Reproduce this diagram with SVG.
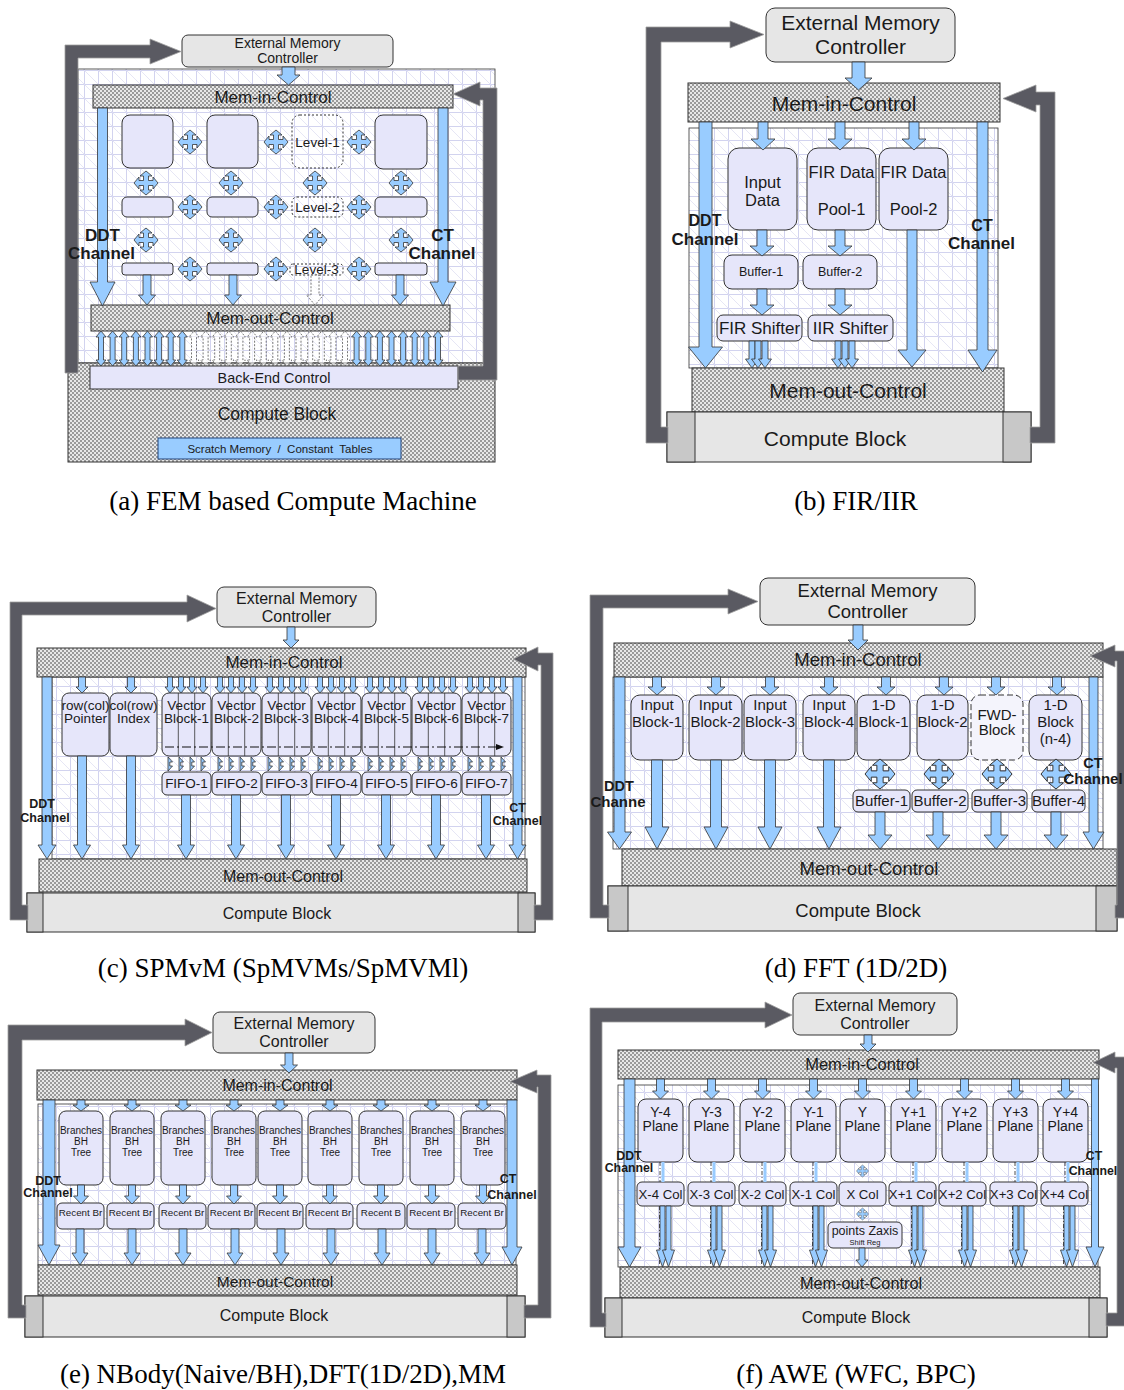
<svg xmlns="http://www.w3.org/2000/svg" width="1124" height="1390" viewBox="0 0 1124 1390">
<defs>
<pattern id="grid" width="14" height="14" patternUnits="userSpaceOnUse"><rect width="14" height="14" fill="#ffffff"/><path d="M0 0.5H14M0.5 0V14" stroke="#d2d3ef" stroke-width="1"/><path d="M0 0L14 14" stroke="#dfe0f3" stroke-width="0.8"/></pattern>
<pattern id="hatch" width="4" height="4" patternUnits="userSpaceOnUse"><rect width="4" height="4" fill="#e8e8e8"/><rect width="2" height="2" fill="#9a9a9a"/><rect x="2" y="2" width="2" height="2" fill="#9a9a9a"/></pattern>
<path id="x4" d="M0,-12 L6,-7 L2.5,-7 L2.5,-2.5 L7,-2.5 L7,-6 L12,0 L7,6 L7,2.5 L2.5,2.5 L2.5,7 L6,7 L0,12 L-6,7 L-2.5,7 L-2.5,2.5 L-7,2.5 L-7,6 L-12,0 L-7,-6 L-7,-2.5 L-2.5,-2.5 L-2.5,-7 L-6,-7 Z"/>
<path id="dbl" d="M0,0 L5,6 L2.5,6 L2.5,29 L5,29 L0,35 L-5,29 L-2.5,29 L-2.5,6 L-5,6 Z"/>
<path id="sdn" d="M-2.5,0 H2.5 V10 H5 L0,16 L-5,10 H-2.5 Z"/>
<path id="hdb" d="M0,0 L4.5,5 H1.8 V9 H4.5 L0,14 Z"/>
<path id="c64" d="M-4.5,0 H4.5 V50 H8.5 L0,64 L-8.5,50 H-4.5 Z"/>
<path id="ddn" d="M-4.5,0 H4.5 V10 H9 L0,18 L-9,10 H-4.5 Z"/>
<path id="d89" d="M-5.5,0 H5.5 V67 H12 L0,89 L-12,67 H-5.5 Z"/>
<path id="d37" d="M-5,0 H5 V23 H12 L0,37 L-12,23 H-5 Z"/>
<path id="e11" d="M-4,0 H4 V5 H8 L0,11 L-8,5 H-4 Z"/>
<path id="e19" d="M-3.5,0 H3.5 V11 H7.5 L0,19 L-7.5,11 H-3.5 Z"/>
<path id="e36" d="M-4,0 H4 V24 H8 L0,36 L-8,24 H-4 Z"/>
<path id="f20" d="M-4,0 H4 V12 H8 L0,20 L-8,12 H-4 Z"/>
<path id="f61" d="M-2.5,0 H2.5 V44 H6 L0,61 L-6,44 H-2.5 Z"/>
<marker id="ah" markerWidth="8" markerHeight="6" refX="1" refY="3" orient="auto" markerUnits="userSpaceOnUse"><path d="M0,0 L8,3 L0,6 Z" fill="#111"/></marker>
</defs>
<style>
text{font-family:"Liberation Sans",Arial,sans-serif;text-anchor:middle;fill:#1a1a1a}
.b{font-weight:bold}
.cp{font-family:"Liberation Serif","Times New Roman",serif;font-size:27px;fill:#000}
.grid{fill:url(#grid);stroke:#333;stroke-width:0.8}
.hatch{fill:url(#hatch);stroke:#333;stroke-width:1}
.blk{fill:#e6e6fa;stroke:#333;stroke-width:1}
.dash{fill:none;stroke:#333;stroke-width:1;stroke-dasharray:2 2}
.emc{fill:#e6e6e6;stroke:#333;stroke-width:1}
.cb{fill:#e6e6e6;stroke:#333;stroke-width:1}
.cap{fill:#c8c8c8;stroke:#333;stroke-width:1}
.arr{fill:#99ccff;stroke:#333;stroke-width:0.8}
.darr{fill:#ffffff;fill-opacity:0.6;stroke:#555;stroke-width:0.8;stroke-dasharray:2 1.5}
.loop{fill:#5a5a62;stroke:#a0a0a0;stroke-width:0.8}
.vl{stroke:#333;stroke-width:0.8}
.dl{stroke:#222;stroke-width:0.8;stroke-dasharray:4 2 1 2}
</style>
<rect width="1124" height="1390" fill="#ffffff"/>

<!-- ================= (a) ================= -->
<g id="panel-a">
<g id="a-frame"><rect x="78" y="69" width="417" height="294" class="grid"/></g>
<g id="a-compute"><rect x="68" y="363" width="427" height="99" class="hatch"/><text x="277" y="420" font-size="17.5">Compute Block</text></g>
<g id="a-backend"><rect x="90" y="366" width="368" height="23" class="blk"/><text x="274" y="383" font-size="14.4">Back-End Control</text></g>
<g id="a-scratch"><rect x="158" y="438" width="243" height="21" fill="#99ccff" stroke="#22447a"/><text x="280" y="453" font-size="11.5" xml:space="preserve">Scratch Memory  /  Constant  Tables</text></g>
<g id="a-emc"><rect x="182" y="35" width="211" height="32" rx="6" class="emc"/><text x="287.5" y="48" font-size="14">External Memory</text><text x="287.5" y="63" font-size="14">Controller</text></g>
<g id="a-memin"><rect x="93" y="85" width="360" height="23" class="hatch"/><text x="273" y="103" font-size="17">Mem-in-Control</text></g>
<g id="a-memout"><rect x="91" y="305" width="359" height="26" class="hatch"/><text x="270" y="324" font-size="17">Mem-out-Control</text></g>
<g id="a-l1-1"><rect x="122" y="115" width="51" height="53" rx="8" class="blk"/></g>
<g id="a-l1-2"><rect x="207" y="115" width="51" height="53" rx="8" class="blk"/></g>
<g id="a-l1-3"><rect x="292" y="115" width="51" height="53" rx="8" class="dash"/><text x="317.5" y="147" font-size="13.5">Level-1</text></g>
<g id="a-l1-4"><rect x="375" y="115" width="52" height="54" rx="8" class="blk"/></g>
<g id="a-l2-1"><rect x="122" y="197" width="51" height="20" rx="5" class="blk"/></g>
<g id="a-l2-2"><rect x="207" y="197" width="51" height="20" rx="5" class="blk"/></g>
<g id="a-l2-3"><rect x="292" y="197" width="51" height="20" rx="5" class="dash"/><text x="317.5" y="212" font-size="13.5">Level-2</text></g>
<g id="a-l2-4"><rect x="375" y="197" width="52" height="20" rx="5" class="blk"/></g>
<g id="a-l3-1"><rect x="122" y="263" width="51" height="12" rx="3" class="blk"/></g>
<g id="a-l3-2"><rect x="207" y="263" width="51" height="12" rx="3" class="blk"/></g>
<g id="a-l3-3"><rect x="290" y="264" width="53" height="11" rx="3" class="dash"/><text x="316.5" y="274" font-size="13.5">Level-3</text></g>
<g id="a-l3-4"><rect x="375" y="263" width="52" height="12" rx="3" class="blk"/></g>
<g id="a-connectors">
<polygon class="arr" points="282,67 295,67 295,75 300,75 288.5,85 277,75 282,75"/>
<polygon class="arr" points="97.5,108 107.5,108 107.5,282 115,282 102.5,306 90,282 97.5,282"/>
<polygon class="arr" points="438,108 448,108 448,282 456,282 443,306 430,282 438,282"/>
<use href="#x4" class="arr" transform="translate(190,142)"/><use href="#x4" class="arr" transform="translate(276,142)"/><use href="#x4" class="arr" transform="translate(359,142)"/>
<use href="#x4" class="arr" transform="translate(146,183)"/><use href="#x4" class="arr" transform="translate(231,183)"/><use href="#x4" class="arr" transform="translate(315,183)"/><use href="#x4" class="arr" transform="translate(401,183)"/>
<use href="#x4" class="arr" transform="translate(190,207)"/><use href="#x4" class="arr" transform="translate(276,207)"/><use href="#x4" class="arr" transform="translate(359,207)"/>
<use href="#x4" class="arr" transform="translate(146,240)"/><use href="#x4" class="arr" transform="translate(231,240)"/><use href="#x4" class="arr" transform="translate(315,240)"/><use href="#x4" class="arr" transform="translate(401,240)"/>
<use href="#x4" class="arr" transform="translate(190,269)"/><use href="#x4" class="arr" transform="translate(276,269)"/><use href="#x4" class="arr" transform="translate(359,269)"/>
<polygon class="arr" points="143,275 151,275 151,295 155.5,295 147,305 138.5,295 143,295"/>
<polygon class="arr" points="229,275 237,275 237,295 241.5,295 233,305 224.5,295 229,295"/>
<polygon class="darr" points="311,275 319,275 319,295 323.5,295 315,305 306.5,295 311,295"/>
<polygon class="arr" points="396,275 404,275 404,295 408.5,295 400,305 391.5,295 396,295"/>
<use href="#dbl" class="arr" x="101" y="331"/><use href="#dbl" class="arr" x="112.6" y="331"/><use href="#dbl" class="arr" x="124.2" y="331"/><use href="#dbl" class="arr" x="135.9" y="331"/><use href="#dbl" class="arr" x="147.5" y="331"/><use href="#dbl" class="arr" x="159.1" y="331"/><use href="#dbl" class="arr" x="170.7" y="331"/><use href="#dbl" class="arr" x="182.3" y="331"/>
<use href="#dbl" class="darr" x="194" y="331"/><use href="#dbl" class="darr" x="205.6" y="331"/><use href="#dbl" class="darr" x="217.2" y="331"/><use href="#dbl" class="darr" x="228.8" y="331"/><use href="#dbl" class="darr" x="240.4" y="331"/><use href="#dbl" class="darr" x="252.1" y="331"/><use href="#dbl" class="darr" x="263.7" y="331"/><use href="#dbl" class="darr" x="275.3" y="331"/><use href="#dbl" class="darr" x="286.9" y="331"/><use href="#dbl" class="darr" x="298.5" y="331"/><use href="#dbl" class="darr" x="310.2" y="331"/><use href="#dbl" class="darr" x="321.8" y="331"/><use href="#dbl" class="darr" x="333.4" y="331"/><use href="#dbl" class="darr" x="345" y="331"/>
<use href="#dbl" class="arr" x="356.6" y="331"/><use href="#dbl" class="arr" x="368.3" y="331"/><use href="#dbl" class="arr" x="379.9" y="331"/><use href="#dbl" class="arr" x="391.5" y="331"/><use href="#dbl" class="arr" x="403.1" y="331"/><use href="#dbl" class="arr" x="414.7" y="331"/><use href="#dbl" class="arr" x="426.3" y="331"/><use href="#dbl" class="arr" x="438" y="331"/>
<polygon class="loop" points="65,373 65,45 150,45 150,39 181,51.5 150,64 150,58 78,58 78,373"/>
<polygon class="loop" points="458,366 483,366 483,100 480,100 480,106 453,94 480,82 480,88 497,88 497,380 458,380"/>
</g>
<g id="a-labels">
<text class="b" x="102.5" y="241" font-size="17">DDT</text><text class="b" x="101.5" y="259" font-size="17">Channel</text>
<text class="b" x="442.5" y="241" font-size="17">CT</text><text class="b" x="442" y="259" font-size="17">Channel</text>
</g>
<text class="cp" x="293" y="510">(a) FEM based Compute Machine</text>
</g>

<!-- ================= (b) ================= -->
<g id="panel-b">
<g id="b-frame"><rect x="689" y="128" width="309" height="240" class="grid"/></g>
<g id="b-emc"><rect x="766" y="8" width="189" height="54" rx="9" class="emc"/><text x="860.5" y="30" font-size="21">External Memory</text><text x="860.5" y="54" font-size="21">Controller</text></g>
<g id="b-memin"><rect x="688" y="83" width="312" height="39" class="hatch"/><text x="844" y="111" font-size="21">Mem-in-Control</text></g>
<g id="b-memout"><rect x="692" y="368" width="312" height="44" class="hatch"/><text x="848" y="398" font-size="21">Mem-out-Control</text></g>
<g id="b-compute"><rect x="667" y="412" width="364" height="50" class="cb"/><rect x="667" y="412" width="28" height="50" class="cap"/><rect x="1003" y="412" width="28" height="50" class="cap"/><text x="835" y="446" font-size="21">Compute Block</text></g>
<g id="b-input"><rect x="728" y="148" width="69" height="82" rx="11" class="blk"/><text x="762.5" y="188" font-size="16.5">Input</text><text x="762.5" y="206" font-size="16.5">Data</text></g>
<g id="b-pool1"><rect x="807" y="148" width="69" height="82" rx="11" class="blk"/><text x="841.5" y="178" font-size="16.5">FIR Data</text><text x="841.5" y="215" font-size="16.5">Pool-1</text></g>
<g id="b-pool2"><rect x="879" y="148" width="69" height="82" rx="11" class="blk"/><text x="913.5" y="178" font-size="16.5">FIR Data</text><text x="913.5" y="215" font-size="16.5">Pool-2</text></g>
<g id="b-buf1"><rect x="724" y="255" width="74" height="34" rx="8" class="blk"/><text x="761" y="276" font-size="12.5">Buffer-1</text></g>
<g id="b-buf2"><rect x="803" y="255" width="74" height="34" rx="8" class="blk"/><text x="840" y="276" font-size="12.5">Buffer-2</text></g>
<g id="b-fir"><rect x="717" y="315" width="85" height="26" rx="6" class="blk"/><text x="759.5" y="334" font-size="17">FIR Shifter</text></g>
<g id="b-iir"><rect x="808" y="315" width="85" height="26" rx="6" class="blk"/><text x="850.5" y="334" font-size="17">IIR Shifter</text></g>
<g id="b-connectors">
<polygon class="arr" points="852,62 865,62 865,78 872,78 858.5,90 845,78 852,78"/>
<polygon class="arr" points="758,122 768,122 768,139 775,139 763,150 751,139 758,139"/>
<polygon class="arr" points="835,122 845,122 845,139 852,139 840,150 828,139 835,139"/>
<polygon class="arr" points="909,122 919,122 919,139 926,139 914,150 902,139 909,139"/>
<polygon class="arr" points="699,122 712,122 712,347 722.5,347 705.5,368 688.5,347 699,347"/>
<polygon class="arr" points="977,122 988,122 988,350 997,350 982.5,372 968,350 977,350"/>
<polygon class="arr" points="907,230 917,230 917,350 926,350 912,367 898,350 907,350"/>
<polygon class="arr" points="757,230 767,230 767,246 774,246 762,256 750,246 757,246"/>
<polygon class="arr" points="835,230 845,230 845,246 852,246 840,256 828,246 835,246"/>
<polygon class="arr" points="757,289 767,289 767,305 774,305 762,315 750,305 757,305"/>
<polygon class="arr" points="835,289 845,289 845,305 852,305 840,315 828,305 835,305"/>
<polygon class="arr" points="749,341 755,341 755,359 758.5,359 752,368 745.5,359 749,359"/>
<polygon class="arr" points="755,341 761,341 761,359 764.5,359 758,368 751.5,359 755,359"/>
<polygon class="arr" points="762,341 768,341 768,359 771.5,359 765,368 758.5,359 762,359"/>
<polygon class="arr" points="835,341 841,341 841,359 844.5,359 838,368 831.5,359 835,359"/>
<polygon class="arr" points="842,341 848,341 848,359 851.5,359 845,368 838.5,359 842,359"/>
<polygon class="arr" points="849,341 855,341 855,359 858.5,359 852,368 845.5,359 849,359"/>
<polygon class="loop" points="646,443 646,27 730,27 730,21 764,34.5 730,48 730,42 661,42 661,427 668,427 668,443"/>
<polygon class="loop" points="1030,427 1040,427 1040,105 1036,105 1036,112 1003,98.5 1036,85 1036,92 1055,92 1055,443 1030,443"/>
</g>
<g id="b-labels">
<text class="b" x="705" y="226" font-size="16">DDT</text><text class="b" x="705" y="245" font-size="17">Channel</text>
<text class="b" x="982" y="231" font-size="16">CT</text><text class="b" x="981.5" y="249" font-size="17">Channel</text>
</g>
<text class="cp" x="856" y="510">(b) FIR/IIR</text>
</g>

<!-- ================= (c) ================= -->
<g id="panel-c">
<g id="c-frame"><rect x="52" y="677" width="473" height="182" class="grid"/></g>
<g id="c-emc"><rect x="217" y="587" width="159" height="40" rx="7" class="emc"/><text x="296.5" y="604" font-size="16">External Memory</text><text x="296.5" y="622" font-size="16">Controller</text></g>
<g id="c-memin"><rect x="37" y="648" width="489" height="29" class="hatch"/><text x="284" y="668" font-size="17">Mem-in-Control</text></g>
<g id="c-memout"><rect x="39" y="859" width="488" height="33" class="hatch"/><text x="283" y="882" font-size="16">Mem-out-Control</text></g>
<g id="c-compute"><rect x="27" y="893" width="508" height="39" class="cb"/><rect x="27" y="893" width="16" height="39" class="cap"/><rect x="518" y="893" width="17" height="39" class="cap"/><text x="277" y="919" font-size="16">Compute Block</text></g>
<g id="c-ptr"><rect x="62" y="693" width="47" height="63" rx="7" class="blk"/><text x="85.5" y="710" font-size="13.5">row(col)</text><text x="85.5" y="723" font-size="13.5">Pointer</text></g>
<g id="c-idx"><rect x="110" y="693" width="47" height="63" rx="7" class="blk"/><text x="133.5" y="710" font-size="13.5">col(row)</text><text x="133.5" y="723" font-size="13.5">Index</text></g>
<g id="c-vb1"><rect x="162" y="693" width="49" height="63" rx="7" class="blk"/><text x="186.5" y="710" font-size="13.5">Vector</text><text x="186.5" y="723" font-size="13.5">Block-1</text><path class="vl" d="M178.3,693V756M194.7,693V756"/></g>
<g id="c-vb2"><rect x="212" y="693" width="49" height="63" rx="7" class="blk"/><text x="236.5" y="710" font-size="13.5">Vector</text><text x="236.5" y="723" font-size="13.5">Block-2</text><path class="vl" d="M228.3,693V756M244.7,693V756"/></g>
<g id="c-vb3"><rect x="262" y="693" width="49" height="63" rx="7" class="blk"/><text x="286.5" y="710" font-size="13.5">Vector</text><text x="286.5" y="723" font-size="13.5">Block-3</text><path class="vl" d="M278.3,693V756M294.7,693V756"/></g>
<g id="c-vb4"><rect x="312" y="693" width="49" height="63" rx="7" class="blk"/><text x="336.5" y="710" font-size="13.5">Vector</text><text x="336.5" y="723" font-size="13.5">Block-4</text><path class="vl" d="M328.3,693V756M344.7,693V756"/></g>
<g id="c-vb5"><rect x="362" y="693" width="49" height="63" rx="7" class="blk"/><text x="386.5" y="710" font-size="13.5">Vector</text><text x="386.5" y="723" font-size="13.5">Block-5</text><path class="vl" d="M378.3,693V756M394.7,693V756"/></g>
<g id="c-vb6"><rect x="412" y="693" width="49" height="63" rx="7" class="blk"/><text x="436.5" y="710" font-size="13.5">Vector</text><text x="436.5" y="723" font-size="13.5">Block-6</text><path class="vl" d="M428.3,693V756M444.7,693V756"/></g>
<g id="c-vb7"><rect x="462" y="693" width="49" height="63" rx="7" class="blk"/><text x="486.5" y="710" font-size="13.5">Vector</text><text x="486.5" y="723" font-size="13.5">Block-7</text><path class="vl" d="M478.3,693V756M494.7,693V756"/></g>
<g id="c-f1"><rect x="162" y="772" width="49" height="23" rx="5" class="blk"/><text x="186.5" y="788" font-size="13.5">FIFO-1</text></g>
<g id="c-f2"><rect x="212" y="772" width="49" height="23" rx="5" class="blk"/><text x="236.5" y="788" font-size="13.5">FIFO-2</text></g>
<g id="c-f3"><rect x="262" y="772" width="49" height="23" rx="5" class="blk"/><text x="286.5" y="788" font-size="13.5">FIFO-3</text></g>
<g id="c-f4"><rect x="312" y="772" width="49" height="23" rx="5" class="blk"/><text x="336.5" y="788" font-size="13.5">FIFO-4</text></g>
<g id="c-f5"><rect x="362" y="772" width="49" height="23" rx="5" class="blk"/><text x="386.5" y="788" font-size="13.5">FIFO-5</text></g>
<g id="c-f6"><rect x="412" y="772" width="49" height="23" rx="5" class="blk"/><text x="436.5" y="788" font-size="13.5">FIFO-6</text></g>
<g id="c-f7"><rect x="462" y="772" width="49" height="23" rx="5" class="blk"/><text x="486.5" y="788" font-size="13.5">FIFO-7</text></g>
<g id="c-connectors">
<polygon class="arr" points="287,627 295,627 295,640 299,640 291,648 283,640 287,640"/>
<polygon class="arr" points="42,677 52,677 52,845 56,845 47,859 38,845 42,845"/>
<polygon class="arr" points="513,677 522,677 522,845 526,845 517.5,859 509,845 513,845"/>
<polygon class="arr" points="78.5,677 85.5,677 85.5,687 88,687 82,693 76,687 78.5,687"/>
<polygon class="arr" points="127.5,677 134.5,677 134.5,687 137,687 131,693 125,687 127.5,687"/>
<polygon class="arr" points="77.5,756 86.5,756 86.5,845 90.5,845 82,859 73.5,845 77.5,845"/>
<polygon class="arr" points="126.5,756 135.5,756 135.5,845 139.5,845 131,859 122.5,845 126.5,845"/>
<use href="#sdn" class="arr" x="170" y="677"/><use href="#sdn" class="arr" x="181" y="677"/><use href="#sdn" class="arr" x="192" y="677"/><use href="#sdn" class="arr" x="203" y="677"/>
<use href="#sdn" class="arr" x="220" y="677"/><use href="#sdn" class="arr" x="231" y="677"/><use href="#sdn" class="arr" x="242" y="677"/><use href="#sdn" class="arr" x="253" y="677"/>
<use href="#sdn" class="arr" x="270" y="677"/><use href="#sdn" class="arr" x="281" y="677"/><use href="#sdn" class="arr" x="292" y="677"/><use href="#sdn" class="arr" x="303" y="677"/>
<use href="#sdn" class="arr" x="320" y="677"/><use href="#sdn" class="arr" x="331" y="677"/><use href="#sdn" class="arr" x="342" y="677"/><use href="#sdn" class="arr" x="353" y="677"/>
<use href="#sdn" class="arr" x="370" y="677"/><use href="#sdn" class="arr" x="381" y="677"/><use href="#sdn" class="arr" x="392" y="677"/><use href="#sdn" class="arr" x="403" y="677"/>
<use href="#sdn" class="arr" x="420" y="677"/><use href="#sdn" class="arr" x="431" y="677"/><use href="#sdn" class="arr" x="442" y="677"/><use href="#sdn" class="arr" x="453" y="677"/>
<use href="#sdn" class="arr" x="470" y="677"/><use href="#sdn" class="arr" x="481" y="677"/><use href="#sdn" class="arr" x="492" y="677"/><use href="#sdn" class="arr" x="503" y="677"/>
<use href="#hdb" class="arr" x="168" y="757"/><use href="#hdb" class="arr" x="179" y="757"/><use href="#hdb" class="arr" x="190" y="757"/><use href="#hdb" class="arr" x="201" y="757"/>
<use href="#hdb" class="arr" x="218" y="757"/><use href="#hdb" class="arr" x="229" y="757"/><use href="#hdb" class="arr" x="240" y="757"/><use href="#hdb" class="arr" x="251" y="757"/>
<use href="#hdb" class="arr" x="268" y="757"/><use href="#hdb" class="arr" x="279" y="757"/><use href="#hdb" class="arr" x="290" y="757"/><use href="#hdb" class="arr" x="301" y="757"/>
<use href="#hdb" class="arr" x="318" y="757"/><use href="#hdb" class="arr" x="329" y="757"/><use href="#hdb" class="arr" x="340" y="757"/><use href="#hdb" class="arr" x="351" y="757"/>
<use href="#hdb" class="arr" x="368" y="757"/><use href="#hdb" class="arr" x="379" y="757"/><use href="#hdb" class="arr" x="390" y="757"/><use href="#hdb" class="arr" x="401" y="757"/>
<use href="#hdb" class="arr" x="418" y="757"/><use href="#hdb" class="arr" x="429" y="757"/><use href="#hdb" class="arr" x="440" y="757"/><use href="#hdb" class="arr" x="451" y="757"/>
<use href="#hdb" class="arr" x="468" y="757"/><use href="#hdb" class="arr" x="479" y="757"/><use href="#hdb" class="arr" x="490" y="757"/><use href="#hdb" class="arr" x="501" y="757"/>
<line x1="165" y1="747" x2="497" y2="747" stroke="#111" stroke-width="1" stroke-dasharray="9 3 2 3" marker-end="url(#ah)"/>
<use href="#c64" class="arr" x="186" y="795"/><use href="#c64" class="arr" x="236" y="795"/><use href="#c64" class="arr" x="286" y="795"/><use href="#c64" class="arr" x="336" y="795"/><use href="#c64" class="arr" x="386" y="795"/><use href="#c64" class="arr" x="436" y="795"/><use href="#c64" class="arr" x="486" y="795"/>
<polygon class="loop" points="10,920 10,602 187,602 187,595 216,608.5 187,622 187,615 22,615 22,905 28,905 28,920"/>
<polygon class="loop" points="534,905 541,905 541,665 538,665 538,671 513,659 538,647 538,653 553,653 553,920 534,920"/>
</g>
<g id="c-labels">
<text class="b" x="42" y="808" font-size="12.5">DDT</text><text class="b" x="45" y="822" font-size="12.5">Channel</text>
<text class="b" x="517.5" y="812" font-size="12.5">CT</text><text class="b" x="517.5" y="825" font-size="12.5">Channel</text>
</g>
<text class="cp" x="283" y="977">(c) SPMvM (SpMVMs/SpMVMl)</text>
</g>

<!-- ================= (d) ================= -->
<g id="panel-d">
<g id="d-frame"><rect x="613" y="677" width="490" height="172" class="grid"/></g>
<g id="d-emc"><rect x="760" y="578" width="215" height="47" rx="8" class="emc"/><text x="867.5" y="597" font-size="18.5">External Memory</text><text x="867.5" y="618" font-size="18.5">Controller</text></g>
<g id="d-memin"><rect x="614" y="643" width="489" height="34" class="hatch"/><text x="858" y="666" font-size="18.5">Mem-in-Control</text></g>
<g id="d-memout"><rect x="622" y="849" width="495" height="37" class="hatch"/><text x="869" y="875" font-size="18.5">Mem-out-Control</text></g>
<g id="d-compute"><rect x="608" y="886" width="509" height="45" class="cb"/><rect x="608" y="886" width="20" height="45" class="cap"/><rect x="1096" y="886" width="21" height="45" class="cap"/><text x="858" y="917" font-size="18.5">Compute Block</text></g>
<g id="d-in1"><rect x="631" y="695" width="52" height="65" rx="9" class="blk"/><text x="657" y="710" font-size="15">Input</text><text x="657" y="727" font-size="15">Block-1</text></g>
<g id="d-in2"><rect x="689" y="695" width="53" height="65" rx="9" class="blk"/><text x="715.5" y="710" font-size="15">Input</text><text x="715.5" y="727" font-size="15">Block-2</text></g>
<g id="d-in3"><rect x="744" y="695" width="52" height="65" rx="9" class="blk"/><text x="770" y="710" font-size="15">Input</text><text x="770" y="727" font-size="15">Block-3</text></g>
<g id="d-in4"><rect x="803" y="695" width="52" height="65" rx="9" class="blk"/><text x="829" y="710" font-size="15">Input</text><text x="829" y="727" font-size="15">Block-4</text></g>
<g id="d-1d1"><rect x="857" y="695" width="53" height="65" rx="9" class="blk"/><text x="883.5" y="710" font-size="15">1-D</text><text x="883.5" y="727" font-size="15">Block-1</text></g>
<g id="d-1d2"><rect x="917" y="695" width="51" height="65" rx="9" class="blk"/><text x="942.5" y="710" font-size="15">1-D</text><text x="942.5" y="727" font-size="15">Block-2</text></g>
<g id="d-fwd"><rect x="971" y="695" width="52" height="65" rx="9" fill="#f4f4fc" stroke="#333" stroke-dasharray="6 3"/><text x="997" y="720" font-size="15">FWD-</text><text x="997" y="735" font-size="15">Block</text></g>
<g id="d-1dn"><rect x="1029" y="695" width="53" height="65" rx="9" class="blk"/><text x="1055.5" y="710" font-size="15">1-D</text><text x="1055.5" y="727" font-size="15">Block</text><text x="1055.5" y="744" font-size="15">(n-4)</text></g>
<g id="d-b1"><rect x="853" y="790" width="57" height="22" rx="5" class="blk"/><text x="881.5" y="806" font-size="15">Buffer-1</text></g>
<g id="d-b2"><rect x="912" y="790" width="56" height="22" rx="5" class="blk"/><text x="940" y="806" font-size="15">Buffer-2</text></g>
<g id="d-b3"><rect x="972" y="790" width="55" height="22" rx="5" class="blk"/><text x="999.5" y="806" font-size="15">Buffer-3</text></g>
<g id="d-b4"><rect x="1032" y="790" width="53" height="22" rx="5" class="blk"/><text x="1058.5" y="806" font-size="15">Buffer-4</text></g>
<g id="d-connectors">
<polygon class="arr" points="853,625 863,625 863,640 868,640 858,650 848,640 853,640"/>
<polygon class="arr" points="614,677 625,677 625,832 631.5,832 619.5,849 607.5,832 614,832"/>
<polygon class="arr" points="1089,677 1098,677 1098,832 1104,832 1093.5,849 1083,832 1089,832"/>
<use href="#ddn" class="arr" x="657" y="677"/><use href="#ddn" class="arr" x="716" y="677"/><use href="#ddn" class="arr" x="770" y="677"/><use href="#ddn" class="arr" x="829" y="677"/><use href="#ddn" class="arr" x="886" y="677"/><use href="#ddn" class="arr" x="944" y="677"/><use href="#ddn" class="arr" x="996" y="677"/><use href="#ddn" class="arr" x="1057" y="677"/>
<use href="#d89" class="arr" x="657" y="760"/><use href="#d89" class="arr" x="716" y="760"/><use href="#d89" class="arr" x="770" y="760"/><use href="#d89" class="arr" x="829" y="760"/>
<use href="#x4" class="arr" transform="translate(880,774) scale(1.25)"/><use href="#x4" class="arr" transform="translate(939,774) scale(1.25)"/><use href="#x4" class="arr" transform="translate(997,774) scale(1.25)"/><use href="#x4" class="arr" transform="translate(1056,774) scale(1.25)"/>
<use href="#d37" class="arr" x="880" y="812"/><use href="#d37" class="arr" x="938" y="812"/><use href="#d37" class="arr" x="996" y="812"/><use href="#d37" class="arr" x="1056" y="812"/>
<polygon class="loop" points="590,918 590,595 728,595 728,589 758,601.5 728,614 728,608 603,608 603,905 609,905 609,918"/>
<polygon class="loop" points="1115,905 1117,905 1117,661 1115,661 1115,667 1090,656 1115,645 1115,651 1128,651 1128,918 1115,918"/>
</g>
<g id="d-labels">
<text class="b" x="619" y="791" font-size="14.5">DDT</text><text class="b" x="618" y="807" font-size="15">Channe</text>
<text class="b" x="1093" y="768" font-size="14.5">CT</text><text class="b" x="1093" y="784" font-size="15">Channel</text>
</g>
<text class="cp" x="856" y="977">(d) FFT (1D/2D)</text>
</g>

<!-- ================= (e) ================= -->
<g id="panel-e">
<g id="e-frame"><rect x="38" y="1104" width="478" height="161" class="grid"/></g>
<g id="e-emc"><rect x="213" y="1012" width="162" height="41" rx="7" class="emc"/><text x="294" y="1029" font-size="16">External Memory</text><text x="294" y="1047" font-size="16">Controller</text></g>
<g id="e-memin"><rect x="37" y="1070" width="480" height="30" class="hatch"/><text x="277.5" y="1091" font-size="16">Mem-in-Control</text></g>
<g id="e-memout"><rect x="38" y="1265" width="479" height="30" class="hatch"/><text x="275" y="1287" font-size="15.5">Mem-out-Control</text></g>
<g id="e-compute"><rect x="25" y="1296" width="500" height="41" class="cb"/><rect x="25" y="1296" width="18" height="41" class="cap"/><rect x="507" y="1296" width="18" height="41" class="cap"/><text x="274" y="1321" font-size="16">Compute Block</text></g>
<g id="e-t1"><rect x="59" y="1111" width="44" height="74" rx="7" class="blk"/><text x="81" y="1134" font-size="10">Branches</text><text x="81" y="1145" font-size="10">BH</text><text x="81" y="1156" font-size="10">Tree</text></g>
<g id="e-t2"><rect x="110" y="1111" width="44" height="74" rx="7" class="blk"/><text x="132" y="1134" font-size="10">Branches</text><text x="132" y="1145" font-size="10">BH</text><text x="132" y="1156" font-size="10">Tree</text></g>
<g id="e-t3"><rect x="161" y="1111" width="44" height="74" rx="7" class="blk"/><text x="183" y="1134" font-size="10">Branches</text><text x="183" y="1145" font-size="10">BH</text><text x="183" y="1156" font-size="10">Tree</text></g>
<g id="e-t4"><rect x="212" y="1111" width="44" height="74" rx="7" class="blk"/><text x="234" y="1134" font-size="10">Branches</text><text x="234" y="1145" font-size="10">BH</text><text x="234" y="1156" font-size="10">Tree</text></g>
<g id="e-t5"><rect x="258" y="1111" width="44" height="74" rx="7" class="blk"/><text x="280" y="1134" font-size="10">Branches</text><text x="280" y="1145" font-size="10">BH</text><text x="280" y="1156" font-size="10">Tree</text></g>
<g id="e-t6"><rect x="308" y="1111" width="44" height="74" rx="7" class="blk"/><text x="330" y="1134" font-size="10">Branches</text><text x="330" y="1145" font-size="10">BH</text><text x="330" y="1156" font-size="10">Tree</text></g>
<g id="e-t7"><rect x="359" y="1111" width="44" height="74" rx="7" class="blk"/><text x="381" y="1134" font-size="10">Branches</text><text x="381" y="1145" font-size="10">BH</text><text x="381" y="1156" font-size="10">Tree</text></g>
<g id="e-t8"><rect x="410" y="1111" width="44" height="74" rx="7" class="blk"/><text x="432" y="1134" font-size="10">Branches</text><text x="432" y="1145" font-size="10">BH</text><text x="432" y="1156" font-size="10">Tree</text></g>
<g id="e-t9"><rect x="461" y="1111" width="44" height="74" rx="7" class="blk"/><text x="483" y="1134" font-size="10">Branches</text><text x="483" y="1145" font-size="10">BH</text><text x="483" y="1156" font-size="10">Tree</text></g>
<g id="e-r1"><rect x="57" y="1203" width="47" height="26" rx="5" class="blk"/><text x="80.5" y="1216" font-size="9.8">Recent Br</text></g>
<g id="e-r2"><rect x="107" y="1203" width="47" height="26" rx="5" class="blk"/><text x="130.5" y="1216" font-size="9.8">Recent Br</text></g>
<g id="e-r3"><rect x="159" y="1203" width="47" height="26" rx="5" class="blk"/><text x="182.5" y="1216" font-size="9.8">Recent Br</text></g>
<g id="e-r4"><rect x="208" y="1203" width="47" height="26" rx="5" class="blk"/><text x="231.5" y="1216" font-size="9.8">Recent Br</text></g>
<g id="e-r5"><rect x="257" y="1203" width="46" height="26" rx="5" class="blk"/><text x="280" y="1216" font-size="9.8">Recent Br</text></g>
<g id="e-r6"><rect x="306" y="1203" width="47" height="26" rx="5" class="blk"/><text x="329.5" y="1216" font-size="9.8">Recent Br</text></g>
<g id="e-r7"><rect x="357" y="1203" width="48" height="26" rx="5" class="blk"/><text x="381" y="1216" font-size="9.8">Recent B</text></g>
<g id="e-r8"><rect x="407" y="1203" width="48" height="26" rx="5" class="blk"/><text x="431" y="1216" font-size="9.8">Recent Br</text></g>
<g id="e-r9"><rect x="458" y="1203" width="48" height="26" rx="5" class="blk"/><text x="482" y="1216" font-size="9.8">Recent Br</text></g>
<g id="e-connectors">
<polygon class="arr" points="285,1053 293,1053 293,1065 297.5,1065 289,1073 280.5,1065 285,1065"/>
<polygon class="arr" points="43,1100 55,1100 55,1245 60,1245 49,1265 38,1245 43,1245"/>
<polygon class="arr" points="507,1100 517,1100 517,1247 522,1247 512,1265 502,1247 507,1247"/>
<use href="#e11" class="arr" x="81" y="1100"/><use href="#e11" class="arr" x="132" y="1100"/><use href="#e11" class="arr" x="183" y="1100"/><use href="#e11" class="arr" x="234" y="1100"/><use href="#e11" class="arr" x="280" y="1100"/><use href="#e11" class="arr" x="330" y="1100"/><use href="#e11" class="arr" x="381" y="1100"/><use href="#e11" class="arr" x="432" y="1100"/><use href="#e11" class="arr" x="483" y="1100"/>
<use href="#e19" class="arr" x="81" y="1185"/><use href="#e19" class="arr" x="132" y="1185"/><use href="#e19" class="arr" x="183" y="1185"/><use href="#e19" class="arr" x="234" y="1185"/><use href="#e19" class="arr" x="280" y="1185"/><use href="#e19" class="arr" x="330" y="1185"/><use href="#e19" class="arr" x="381" y="1185"/><use href="#e19" class="arr" x="432" y="1185"/><use href="#e19" class="arr" x="483" y="1185"/>
<use href="#e36" class="arr" x="80" y="1229"/><use href="#e36" class="arr" x="132" y="1229"/><use href="#e36" class="arr" x="183" y="1229"/><use href="#e36" class="arr" x="235" y="1229"/><use href="#e36" class="arr" x="281" y="1229"/><use href="#e36" class="arr" x="331" y="1229"/><use href="#e36" class="arr" x="382" y="1229"/><use href="#e36" class="arr" x="432" y="1229"/><use href="#e36" class="arr" x="482" y="1229"/>
<polygon class="loop" points="8,1318 8,1025 185,1025 185,1019 212,1032.5 185,1046 185,1040 22,1040 22,1305 26,1305 26,1318"/>
<polygon class="loop" points="524,1305 538,1305 538,1087 537,1087 537,1093 510,1081.5 537,1070 537,1075 551,1075 551,1318 524,1318"/>
</g>
<g id="e-labels">
<text class="b" x="48" y="1185" font-size="12.5">DDT</text><text class="b" x="48" y="1197" font-size="12.5">Channel</text>
<text class="b" x="508" y="1183" font-size="12.5">CT</text><text class="b" x="512" y="1199" font-size="12.5">Channel</text>
</g>
<text class="cp" x="283" y="1383">(e) NBody(Naive/BH),DFT(1D/2D),MM</text>
</g>

<!-- ================= (f) ================= -->
<g id="panel-f">
<g id="f-frame"><rect x="618" y="1085" width="480" height="182" class="grid"/></g>
<g id="f-emc"><rect x="793" y="993" width="164" height="42" rx="7" class="emc"/><text x="875" y="1011" font-size="16">External Memory</text><text x="875" y="1029" font-size="16">Controller</text></g>
<g id="f-memin"><rect x="618" y="1050" width="481" height="29" class="hatch"/><text x="862" y="1070" font-size="16.5">Mem-in-Control</text></g>
<g id="f-memout"><rect x="620" y="1267" width="480" height="31" class="hatch"/><text x="861" y="1289" font-size="16.3">Mem-out-Control</text></g>
<g id="f-compute"><rect x="605" y="1298" width="502" height="39" class="cb"/><rect x="605" y="1298" width="17" height="39" class="cap"/><rect x="1089" y="1298" width="18" height="39" class="cap"/><text x="856" y="1323" font-size="16">Compute Block</text></g>
<g id="f-y1"><rect x="638" y="1099" width="45" height="63" rx="8" class="blk"/><text x="660.5" y="1117" font-size="14">Y-4</text><text x="660.5" y="1131" font-size="14">Plane</text></g>
<g id="f-y2"><rect x="689" y="1099" width="45" height="63" rx="8" class="blk"/><text x="711.5" y="1117" font-size="14">Y-3</text><text x="711.5" y="1131" font-size="14">Plane</text></g>
<g id="f-y3"><rect x="740" y="1099" width="45" height="63" rx="8" class="blk"/><text x="762.5" y="1117" font-size="14">Y-2</text><text x="762.5" y="1131" font-size="14">Plane</text></g>
<g id="f-y4"><rect x="791" y="1099" width="45" height="63" rx="8" class="blk"/><text x="813.5" y="1117" font-size="14">Y-1</text><text x="813.5" y="1131" font-size="14">Plane</text></g>
<g id="f-y5"><rect x="840" y="1099" width="45" height="63" rx="8" class="blk"/><text x="862.5" y="1117" font-size="14">Y</text><text x="862.5" y="1131" font-size="14">Plane</text></g>
<g id="f-y6"><rect x="891" y="1099" width="45" height="63" rx="8" class="blk"/><text x="913.5" y="1117" font-size="14">Y+1</text><text x="913.5" y="1131" font-size="14">Plane</text></g>
<g id="f-y7"><rect x="942" y="1099" width="45" height="63" rx="8" class="blk"/><text x="964.5" y="1117" font-size="14">Y+2</text><text x="964.5" y="1131" font-size="14">Plane</text></g>
<g id="f-y8"><rect x="993" y="1099" width="45" height="63" rx="8" class="blk"/><text x="1015.5" y="1117" font-size="14">Y+3</text><text x="1015.5" y="1131" font-size="14">Plane</text></g>
<g id="f-y9"><rect x="1043" y="1099" width="45" height="63" rx="8" class="blk"/><text x="1065.5" y="1117" font-size="14">Y+4</text><text x="1065.5" y="1131" font-size="14">Plane</text></g>
<g id="f-x1"><rect x="637" y="1182" width="47" height="24" rx="5" class="blk"/><text x="660.5" y="1199" font-size="13.2">X-4 Col</text></g>
<g id="f-x2"><rect x="688" y="1182" width="47" height="24" rx="5" class="blk"/><text x="711.5" y="1199" font-size="13.2">X-3 Col</text></g>
<g id="f-x3"><rect x="739" y="1182" width="47" height="24" rx="5" class="blk"/><text x="762.5" y="1199" font-size="13.2">X-2 Col</text></g>
<g id="f-x4"><rect x="790" y="1182" width="47" height="24" rx="5" class="blk"/><text x="813.5" y="1199" font-size="13.2">X-1 Col</text></g>
<g id="f-x5"><rect x="839" y="1182" width="47" height="24" rx="5" class="blk"/><text x="862.5" y="1199" font-size="13.2">X Col</text></g>
<g id="f-x6"><rect x="889" y="1182" width="47" height="24" rx="5" class="blk"/><text x="912.5" y="1199" font-size="13.2">X+1 Col</text></g>
<g id="f-x7"><rect x="939" y="1182" width="47" height="24" rx="5" class="blk"/><text x="962.5" y="1199" font-size="13.2">X+2 Col</text></g>
<g id="f-x8"><rect x="990" y="1182" width="47" height="24" rx="5" class="blk"/><text x="1013.5" y="1199" font-size="13.2">X+3 Col</text></g>
<g id="f-x9"><rect x="1041" y="1182" width="47" height="24" rx="5" class="blk"/><text x="1064.5" y="1199" font-size="13.2">X+4 Col</text></g>
<g id="f-pz"><rect x="828" y="1222" width="74" height="26" rx="5" class="blk"/><text x="865" y="1235" font-size="12.5">points Zaxis</text><text x="865" y="1245" font-size="7.5">Shift Reg</text></g>
<g id="f-connectors">
<polygon class="arr" points="864,1035 872,1035 872,1044 876,1044 868,1052 860,1044 864,1044"/>
<polygon class="arr" points="624,1079 635,1079 635,1247 641,1247 629.5,1267 618,1247 624,1247"/>
<polygon class="arr" points="1091.5,1079 1098.5,1079 1098.5,1247 1104,1247 1095,1267 1086,1247 1091.5,1247"/>
<use href="#f20" class="arr" x="660.5" y="1079"/><use href="#f20" class="arr" x="711.5" y="1079"/><use href="#f20" class="arr" x="762.5" y="1079"/><use href="#f20" class="arr" x="813.5" y="1079"/><use href="#f20" class="arr" x="862.5" y="1079"/><use href="#f20" class="arr" x="913.5" y="1079"/><use href="#f20" class="arr" x="964.5" y="1079"/><use href="#f20" class="arr" x="1015.5" y="1079"/><use href="#f20" class="arr" x="1065.5" y="1079"/>
<g fill="#99ccff"><rect x="661.5" y="1162" width="3" height="20"/><rect x="712.5" y="1162" width="3" height="20"/><rect x="763.5" y="1162" width="3" height="20"/><rect x="814.5" y="1162" width="3" height="20"/><rect x="914.5" y="1162" width="3" height="20"/><rect x="965.5" y="1162" width="3" height="20"/><rect x="1016.5" y="1162" width="3" height="20"/><rect x="1066.5" y="1162" width="3" height="20"/></g>
<path class="dl" d="M660,1162V1182M711,1162V1182M762,1162V1182M813,1162V1182M913,1162V1182M964,1162V1182M1015,1162V1182M1065,1162V1182"/>
<path class="dl" d="M659.5,1206V1264M710.5,1206V1264M761.5,1206V1264M812.5,1206V1264M911.5,1206V1264M961.5,1206V1264M1012.5,1206V1264M1063.5,1206V1264"/>
<use href="#f61" class="arr" x="662.5" y="1206"/><use href="#f61" class="arr" x="668.5" y="1206"/>
<use href="#f61" class="arr" x="713.5" y="1206"/><use href="#f61" class="arr" x="719.5" y="1206"/>
<use href="#f61" class="arr" x="764.5" y="1206"/><use href="#f61" class="arr" x="770.5" y="1206"/>
<use href="#f61" class="arr" x="815.5" y="1206"/><use href="#f61" class="arr" x="821.5" y="1206"/>
<use href="#f61" class="arr" x="914.5" y="1206"/><use href="#f61" class="arr" x="920.5" y="1206"/>
<use href="#f61" class="arr" x="964.5" y="1206"/><use href="#f61" class="arr" x="970.5" y="1206"/>
<use href="#f61" class="arr" x="1015.5" y="1206"/><use href="#f61" class="arr" x="1021.5" y="1206"/>
<use href="#f61" class="arr" x="1066.5" y="1206"/><use href="#f61" class="arr" x="1072.5" y="1206"/>
<use href="#x4" class="arr" transform="translate(862.5,1171) scale(0.5)"/>
<use href="#x4" class="arr" transform="translate(862.5,1214) scale(0.5)"/>
<polygon class="arr" points="859,1248 865,1248 865,1260 868,1260 862,1267 856,1260 859,1260"/>
<polygon class="loop" points="590,1327 590,1008 765,1008 765,1002 792,1015 765,1028 765,1022 602,1022 602,1313 606,1313 606,1327"/>
<polygon class="loop" points="1106,1313 1117,1313 1117,1068 1115,1068 1115,1073 1093,1062.5 1115,1052 1115,1057 1128,1057 1128,1326 1106,1326"/>
</g>
<g id="f-labels">
<text class="b" x="629" y="1160" font-size="12.3">DDT</text><text class="b" x="629" y="1172" font-size="12.3">Channel</text>
<text class="b" x="1094" y="1160" font-size="12.3">CT</text><text class="b" x="1093" y="1175" font-size="12.3">Channel</text>
</g>
<text class="cp" x="856" y="1383">(f) AWE (WFC, BPC)</text>
</g>
</svg>
